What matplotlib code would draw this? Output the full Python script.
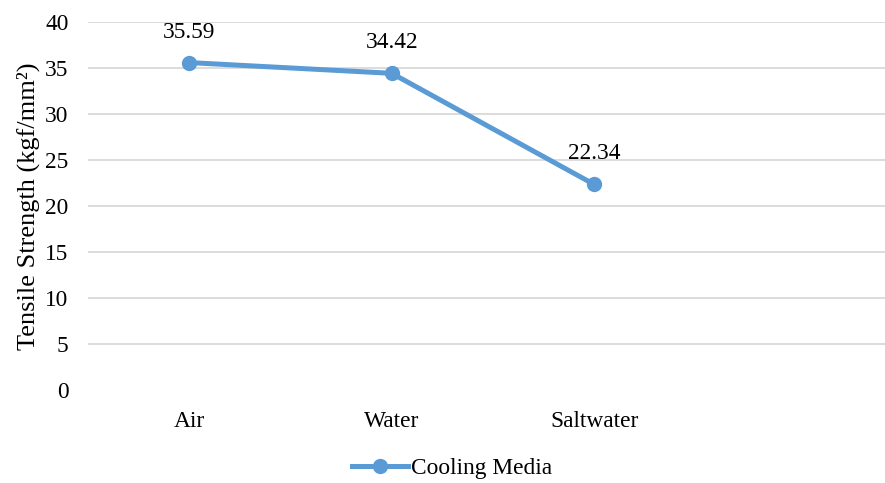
import matplotlib.pyplot as plt

categories = ['Air', 'Water', 'Saltwater']
strength = [35.59, 34.42, 22.34]
series_name = 'Cooling Media'

plt.rcParams['font.family'] = ['Liberation Serif', 'DejaVu Serif']
fs = 16.8

fig = plt.figure(figsize=(8.85, 4.83), dpi=100)
ax = fig.add_axes([88/885, 1-390/483, 810/885, 368/483])

x = list(range(len(categories)))
ax.plot(x, strength, color='#5B9BD5', lw=3.6, marker='o', ms=10, label=series_name, zorder=3)
for xi, v in zip(x, strength):
    ax.annotate('%.2f' % v, (xi, v), xytext=(0, 22), textcoords='offset points',
                ha='center', va='center', fontsize=fs)

ax.set_xlim(-0.5, 3.5)
ax.set_ylim(0, 40)
ax.set_yticks(range(0, 41, 5))
ax.set_xticks(x)
ax.set_xticklabels(categories)
ax.tick_params(axis='both', length=0, labelsize=fs, colors='black')
ax.tick_params(axis='y', pad=14)
ax.tick_params(axis='x', pad=15)
for s in ax.spines.values():
    s.set_visible(False)
for t in range(5, 41, 5):
    ax.axhline(t, color='#D9D9D9', lw=1.3, zorder=1)
ax.set_ylabel('Tensile Strength (kgf/mm²)', fontsize=19, labelpad=4)

fig.legend(loc='center', bbox_to_anchor=(452/885, 1-468/483), frameon=False,
           fontsize=fs, handlelength=2.4, handletextpad=0.1)

fig.savefig('out.png', dpi=100)
